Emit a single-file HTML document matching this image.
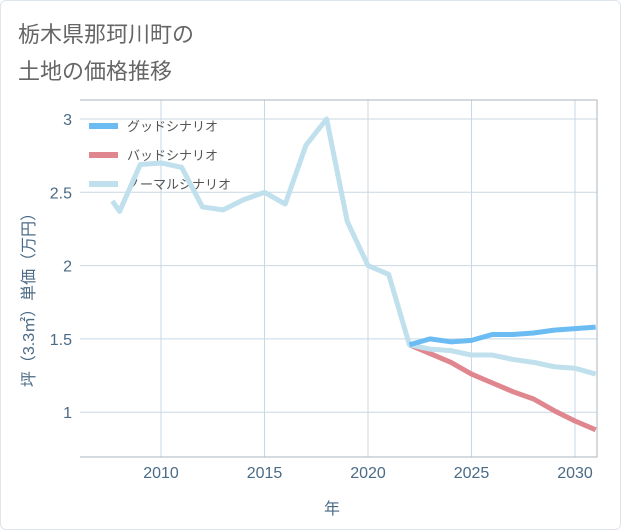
<!DOCTYPE html>
<html><head><meta charset="utf-8"><style>
html,body{margin:0;padding:0;background:#fff}
#card{position:absolute;left:0;top:0;width:619px;height:528px;border:1px solid #dfe5ec;border-radius:6px;background:#fff}
text{font-family:"Liberation Sans","Noto Sans CJK JP",sans-serif}
</style></head><body>
<div id="card"></div>
<svg id="chart" width="621" height="530" style="position:absolute;left:0;top:0">
<text x="18" y="42" font-size="22" fill="#666">栃木県那珂川町の</text>
<text x="18" y="79" font-size="22" fill="#666">土地の価格推移</text>
<g id="grid"></g><g id="legend"></g><g id="series"></g><g id="axes"></g>
</svg>
<script>
const years=[2007.65,2008,2009,2010,2011,2012,2013,2014,2015,2016,2017,2018,2019,2020,2021,2022,2023,2024,2025,2026,2027,2028,2029,2030,2031];
const normalVals=[2.44,2.37,2.69,2.70,2.67,2.40,2.38,2.45,2.50,2.42,2.82,3.0,2.30,2.0,1.94,1.46,1.43,1.42,1.39,1.39,1.36,1.34,1.31,1.30,1.26];
const futureYears=[2022,2023,2024,2025,2026,2027,2028,2029,2030,2031];
const goodVals=[1.46,1.50,1.48,1.49,1.53,1.53,1.54,1.56,1.57,1.58];
const badVals=[1.46,1.40,1.34,1.26,1.20,1.14,1.09,1.01,0.94,0.88];
const xTicks=[2010,2015,2020,2025,2030];
const yTicks=[1,1.5,2,2.5,3];
const yTickLabels=["1","1.5","2","2.5","3"];
const L=80,R=597,T=100,B=457;
const X=y=>161+(y-2010)*20.7;
const Y=v=>119+(3-v)*146.6;
const NS="http://www.w3.org/2000/svg";
function mk(tag,attrs,parent,txt){const e=document.createElementNS(NS,tag);for(const k in attrs)e.setAttribute(k,attrs[k]);if(txt!==undefined)e.textContent=txt;parent.appendChild(e);return e;}
const grid=document.getElementById('grid'),ser=document.getElementById('series'),leg=document.getElementById('legend'),ax=document.getElementById('axes');
xTicks.forEach(t=>{
 const l=mk('line',{x1:X(t),x2:X(t),y1:T,y2:B,stroke:'#c8d8e4','stroke-width':1},grid);
 
 
 const tx=mk('text',{x:X(t),y:478,'font-size':16,fill:'#4a6a85','text-anchor':'middle'},ax,String(t));
 
 
});
yTicks.forEach((t,i)=>{
 const l=mk('line',{x1:L,x2:R,y1:Y(t),y2:Y(t),stroke:'#c8d8e4','stroke-width':1},grid);
 
 
 const tx=mk('text',{x:72,y:Y(t)+6,'font-size':16,fill:'#4a6a85','text-anchor':'end'},ax,yTickLabels[i]);
 
 
});
const frame=mk('path',{d:`M${L},${T}H${R}V${B}H${L}`,fill:'none',stroke:'#aab4bd','stroke-width':1},ax);


function line(xs,vs,color,name){
 const p=mk('polyline',{points:xs.map((y,i)=>X(y)+','+Y(vs[i])).join(' '),fill:'none',stroke:color,'stroke-width':5,'stroke-linejoin':'round'},ser);
 
 
}
line(futureYears,badVals,'#e0868e','bad-scenario-line');
line(years,normalVals,'#bfe0ec','normal-scenario-line');
line(futureYears,goodVals,'#6cbcf4','good-scenario-line');
const cp=mk('clipPath',{id:'c'},ser);mk('rect',{x:L,y:T,width:R-L,height:B-T},cp);
ser.setAttribute('clip-path','url(#c)');
const legItems=[['グッドシナリオ','#6cbcf4','legend-good'],['バッドシナリオ','#e0868e','legend-bad'],['ノーマルシナリオ','#bfe0ec','legend-normal']];
legItems.forEach((it,i)=>{
 const y=126+i*29;
 const g=mk('g',{},leg);
 
 
 mk('line',{x1:89,x2:118,y1:y,y2:y,stroke:it[1],'stroke-width':6},g);
 mk('text',{x:127,y:y+5,'font-size':13,fill:'#555'},g,it[0]);
});
const xt=mk('text',{x:332,y:514,'font-size':16,fill:'#4a6a85','text-anchor':'middle'},ax,'年');


const yt=mk('text',{x:0,y:0,'font-size':16,fill:'#4a6a85','text-anchor':'middle',transform:'translate(34,296) rotate(-90)'},ax,'坪（3.3㎡）単価（万円）');


</script>
</body></html>
